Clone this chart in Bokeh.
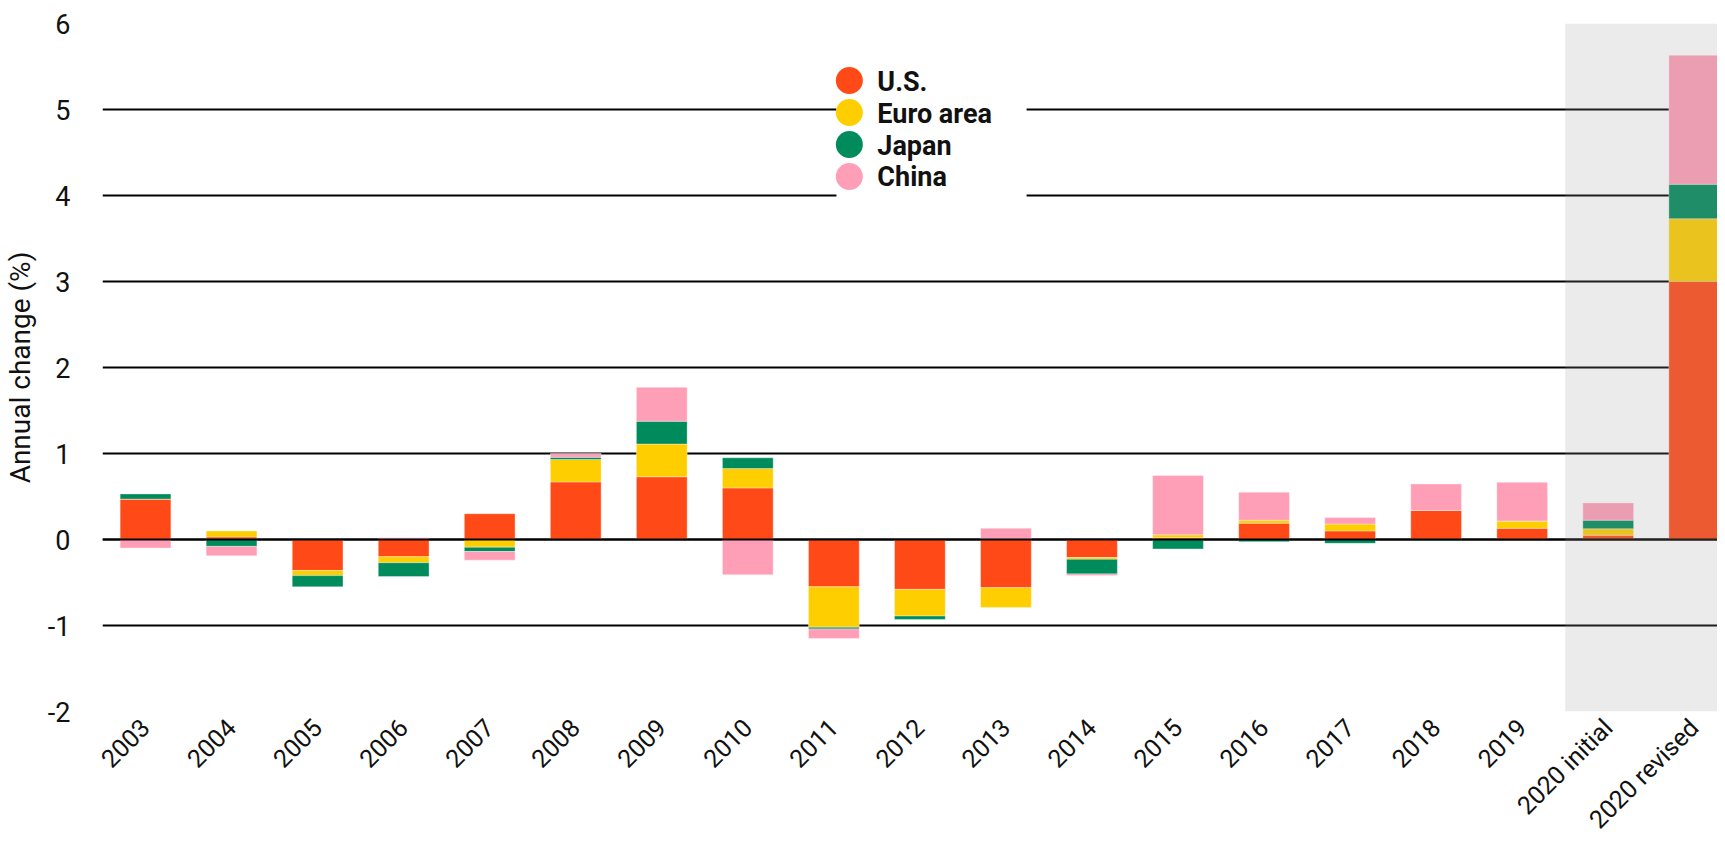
import math
import numpy as np
from bokeh.plotting import figure
from bokeh.models import (Range1d, FixedTicker, BoxAnnotation, Span,
                          ColumnDataSource)
from bokeh.core.properties import value
from bokeh.embed import file_html
from bokeh.resources import INLINE

categories = ["2003", "2004", "2005", "2006", "2007", "2008", "2009", "2010",
              "2011", "2012", "2013", "2014", "2015", "2016", "2017", "2018",
              "2019", "2020 initial", "2020 revised"]
us = [0.47, 0.03, -0.36, -0.20, 0.30, 0.67, 0.73, 0.60, -0.55, -0.58, -0.56,
      -0.21, 0.02, 0.19, 0.10, 0.34, 0.13, 0.05, 3.00]
euro = [0.00, 0.07, -0.06, -0.07, -0.09, 0.26, 0.38, 0.225, -0.47, -0.31,
        -0.23, -0.02, 0.035, 0.035, 0.08, 0.00, 0.085, 0.075, 0.73]
japan = [0.06, -0.08, -0.13, -0.16, -0.05, 0.025, 0.265, 0.125, -0.02, -0.04,
         0.00, -0.17, -0.11, -0.025, -0.045, -0.015, 0.00, 0.10, 0.40]
china = [-0.10, -0.11, 0.00, 0.02, -0.10, 0.045, 0.395, -0.41, -0.11, 0.00,
         0.13, -0.02, 0.69, 0.325, 0.075, 0.305, 0.45, 0.20, 1.50]
series_names = ["U.S.", "Euro area", "Japan", "China"]
series_colors = ["#FF4A17", "#FFCE00", "#008B5C", "#FF9EB7"]
y_ticks = [-2, -1, 0, 1, 2, 3, 4, 5, 6]
shaded_from = "2020 initial"

FONT = "Roboto"
TXT = "#111111"

p = figure(width=1717, height=848, output_backend="svg", toolbar_location=None,
           x_range=Range1d(-0.5, 18.27), y_range=Range1d(-2, 6),
           min_border_left=100, min_border_right=0, min_border_top=23,
           min_border_bottom=137)
p.outline_line_color = None
p.background_fill_color = "white"

xs = np.arange(len(categories))
pos_base = np.zeros(len(categories))
neg_base = np.zeros(len(categories))
for name, vals, col in zip(series_names, [us, euro, japan, china], series_colors):
    v = np.array(vals, dtype=float)
    bottom = np.where(v >= 0, pos_base, neg_base)
    top = bottom + v
    pos_base = pos_base + np.clip(v, 0, None)
    neg_base = neg_base + np.clip(v, None, 0)
    src = ColumnDataSource(dict(x=xs, bottom=bottom, top=top))
    p.vbar(x="x", bottom="bottom", top="top", width=0.59, source=src,
           fill_color=col, line_color="white", line_alpha=0.35, line_width=1)

# zero line above bars
p.add_layout(Span(location=0, dimension="width", line_color="black",
                  line_width=2, level="overlay"))

# shaded 2020 region (grey veil over bars)
p.add_layout(BoxAnnotation(left=categories.index(shaded_from) - 0.5,
                           bottom=-2, top=6, fill_color="#9b9b9b",
                           fill_alpha=0.2, line_color=None, level="overlay"))

# legend (manual: large circles + bold labels on a white panel)
LEG_X, LEG_TOP, LEG_STEP = 8.18, 5.337, 0.372
p.add_layout(BoxAnnotation(left=LEG_X - 0.15, right=LEG_X + 2.06,
                           top=LEG_TOP + 0.27, bottom=LEG_TOP - 3 * LEG_STEP - 0.35,
                           fill_color="white", fill_alpha=1.0, line_color=None,
                           level="annotation"))
leg_src = ColumnDataSource(dict(
    x=[LEG_X] * len(series_names),
    y=[LEG_TOP - i * LEG_STEP for i in range(len(series_names))],
    color=series_colors, label=series_names))
p.scatter(x="x", y="y", size=27, marker="circle", fill_color="color",
          line_color=None, source=leg_src, level="overlay")
p.text(x="x", y="y", text="label", source=leg_src, x_offset=28, y_offset=1,
       text_font=value(FONT), text_font_size="27px", text_font_style="bold",
       text_color=TXT, text_baseline="middle", text_align="left",
       level="overlay")

# axes
p.yaxis.ticker = FixedTicker(ticks=y_ticks)
p.yaxis.major_label_overrides = {t: str(t) for t in y_ticks}
p.yaxis.axis_label = "Annual change (%)"
p.yaxis.axis_label_text_font = FONT
p.yaxis.axis_label_text_font_size = "28px"
p.yaxis.axis_label_text_font_style = "normal"
p.yaxis.axis_label_text_color = TXT
p.yaxis.axis_label_standoff = 8
p.yaxis.major_label_standoff = 26
p.yaxis.axis_line_color = None
p.yaxis.major_tick_line_color = None
p.yaxis.minor_tick_line_color = None
p.yaxis.major_label_text_font = FONT
p.yaxis.major_label_text_font_size = "27px"
p.yaxis.major_label_text_color = TXT

p.xaxis.ticker = FixedTicker(ticks=list(range(len(categories))))
p.xaxis.major_label_overrides = {i: c for i, c in enumerate(categories)}
p.xaxis.major_label_orientation = math.pi / 4
p.xaxis.major_label_standoff = 6
p.xaxis.axis_line_color = None
p.xaxis.major_tick_line_color = None
p.xaxis.minor_tick_line_color = None
p.xaxis.major_label_text_font = FONT
p.xaxis.major_label_text_font_size = "25px"
p.xaxis.major_label_text_color = TXT

p.xgrid.grid_line_color = None
p.ygrid.grid_line_color = "black"
p.ygrid.grid_line_width = 2

open("out.html", "w").write(file_html(p, INLINE))
